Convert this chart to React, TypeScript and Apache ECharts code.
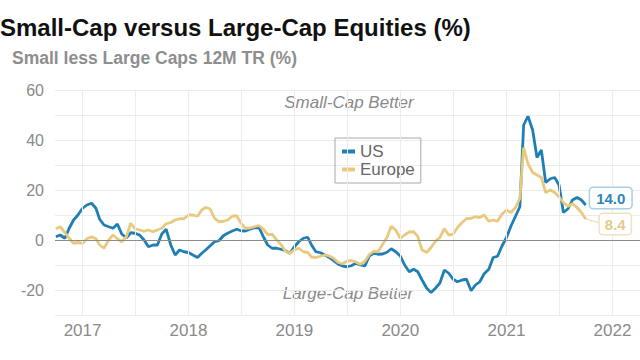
import React, { useEffect, useRef } from "react";
import * as echarts from "echarts";

// Semi-monthly observations from Oct 2016 to Oct 2021 (1st and 16th of each month)
const usValues: number[] = [
  1.3, 2, 0.7, 4.7, 8, 10, 12.7, 14, 14.7, 12.7, 8.3, 6, 5.3, 4.7, 6.4, 2.4, 0.9, 2.9, 2.7, 2,
  0, -2.7, -2, -2, 2.4, 4.3, -2, -6, -4, -4.7, -5, -6, -7, -5.3, -4, -2.4, -0.7, -0.3, 1.7, 2.7,
  3.6, 4.3, 3.7, 3.6, 4.3, 4.9, 5, 1.3, -2, -3.3, -3.3, -3.7, -4.3, -5.3, -2.7, -0.7, 0.7, 1.1, -2, -4.7,
  -5.1, -6, -7, -8.3, -9.7, -10.4, -10.7, -10.3, -9.3, -10, -10.4, -6.4, -5.3, -5.7, -5.6, -4.9, -3.5, -4.7, -6.4, -10,
  -12.7, -11.7, -12.7, -16, -19.3, -21, -19.3, -17.3, -12, -13.3, -15.7, -16.7, -16, -15.7, -20.3, -18, -16.7, -13.5, -11.7, -7,
  -6.5, -2.5, 1.0, 5.5, 9.5, 13.3, 46, 49.5, 44, 33, 36, 23, 24.5, 25, 22, 11, 12.5, 16, 17, 16,
  14.0,
];

const europeValues: number[] = [
  4.5, 5.3, 3, 0.7, -1.3, -1, -1.3, 0.5, 1.3, 0.5, -2, -3.3, 0, 2, 0.5, -0.7, 1.3, 6.7, 4.5, 4,
  3.5, 4, 3.3, 4, 4.7, 6.5, 7, 8, 8.5, 8.5, 10, 10, 9.5, 12, 13, 12.5, 8.7, 7.3, 7.5, 8,
  9.5, 9.7, 6.7, 4.7, 4.8, 5.3, 5.8, 4.3, 2.2, 2.3, 0, -1.8, -4.5, -5.3, -4, -3.3, -4.7, -5, -6.8, -7,
  -6.5, -6, -6.4, -7.3, -9, -9.5, -8.5, -8.2, -8.8, -9.7, -8.5, -5.8, -4.5, -4.7, -1.7, 1, 5.5, 4, 0.7, 2,
  3.2, 3.3, 1.5, -4, -5, -3, -0.5, 1, 4.5, 2, 2.3, 5, 7, 8.5, 8.7, 9.3, 9, 10, 7.5, 8,
  7.5, 10.3, 12, 11, 13, 16.7, 37, 30.5, 27, 26, 25, 19, 20, 19, 17.3, 15, 13.5, 14.5, 13, 11,
  8.4,
];

const yearLabels: number[] = [2017, 2018, 2019, 2020, 2021, 2022];
const halfYearGrid: string[] = [
  "2017-01-01", "2017-07-01", "2018-01-01", "2018-07-01", "2019-01-01", "2019-07-01",
  "2020-01-01", "2020-07-01", "2021-01-01", "2021-07-01", "2022-01-01",
];

const ts = (s: string) => new Date(s + "T00:00:00").getTime();

const dates: string[] = [];
for (let i = 0; i < usValues.length; i++) {
  const m = 9 + Math.floor(i / 2);
  const y = 2016 + Math.floor(m / 12);
  const mm = (m % 12) + 1;
  const d = i % 2 === 0 ? "01" : "16";
  dates.push(`${y}-${String(mm).padStart(2, "0")}-${d}`);
}

const US_COLOR = "#1f7fb4";
const EU_COLOR = "#e8c97e";
const FONT = "Liberation Sans";

export default function App() {
  const ref = useRef<HTMLDivElement>(null);
  useEffect(() => {
    if (!ref.current) return;
    const chart = echarts.init(ref.current, undefined, { renderer: "svg" });
    const last = usValues.length - 1;
    chart.setOption({
      animation: false,
      backgroundColor: "#ffffff",
      textStyle: { fontFamily: FONT },
      title: [
        {
          text: "Small-Cap versus Large-Cap Equities (%)",
          left: 0,
          top: 15,
          padding: 0,
          textStyle: { fontSize: 24, fontWeight: "bold", color: "#111111", fontFamily: FONT },
        },
        {
          text: "Small less Large Caps 12M TR (%)",
          left: 12,
          top: 49,
          padding: 0,
          textStyle: { fontSize: 17.5, fontWeight: "bold", color: "#8e8e8e", fontFamily: FONT },
        },
      ],
      grid: { left: 55, right: 0, top: 90, bottom: 45, containLabel: false },
      legend: {
        data: ["US", "Europe"],
        orient: "vertical",
        left: 335,
        top: 138,
        padding: [5, 6, 5, 7],
        itemGap: 1,
        itemWidth: 13,
        itemHeight: 4,
        icon: "rect",
        borderColor: "#a8a8a8",
        borderWidth: 1,
        textStyle: { fontSize: 17, color: "#666666", fontFamily: FONT, lineHeight: 16 },
      },
      xAxis: {
        type: "value",
        min: ts("2016-09-28"),
        max: ts("2022-04-06"),
        axisLine: { show: false },
        axisTick: { show: false },
        splitLine: { show: false },
        axisLabel: {
          customValues: yearLabels.map((y) => new Date(y, 0, 1).getTime()),
          formatter: (v: number) => String(new Date(v).getFullYear()),
          fontSize: 17,
          color: "#8a8a8a",
          margin: 7,
          fontFamily: FONT,
        },
      },
      yAxis: {
        type: "value",
        min: -30,
        max: 60,
        interval: 10,
        axisLine: { show: false },
        axisTick: { show: false },
        splitLine: { lineStyle: { color: "#ececec", width: 1 } },
        axisLabel: {
          formatter: (v: number) => (v % 20 === 0 ? String(v) : ""),
          fontSize: 16,
          color: "#8a8a8a",
          margin: 11,
          fontFamily: FONT,
        },
      },
      graphic: [
        {
          type: "text",
          x: 349,
          y: 102,
          style: {
            text: "Small-Cap Better",
            fontStyle: "italic",
            fontSize: 17,
            fill: "#8a8a8a",
            fontFamily: FONT,
            align: "center",
            verticalAlign: "middle",
          },
        },
        {
          type: "text",
          x: 348,
          y: 293,
          style: {
            text: "Large-Cap Better",
            fontStyle: "italic",
            fontSize: 17,
            fill: "#8a8a8a",
            fontFamily: FONT,
            align: "center",
            verticalAlign: "middle",
          },
        },
      ],
      series: [
        {
          type: "line",
          data: [],
          z: 1,
          silent: true,
          markLine: {
            silent: true,
            symbol: ["none", "none"],
            label: { show: false },
            animation: false,
            data: [
              ...halfYearGrid.map((d) => ({
                xAxis: ts(d),
                lineStyle: { color: "#ececec", width: 1, type: "solid" },
              })),
              { yAxis: 0, lineStyle: { color: "#8c8c8c", width: 1, type: "solid" } },
            ],
          },
        },
        {
          name: "US",
          type: "line",
          z: 3,
          data: dates.map((d, i) => [ts(d), usValues[i]]),
          showSymbol: false,
          color: US_COLOR,
          lineStyle: { color: US_COLOR, width: 2.8 },
          markPoint: {
            symbol: "circle",
            symbolSize: 1,
            itemStyle: { color: "rgba(0,0,0,0)" },
            label: {
              show: true,
              position: "inside",
              offset: [25, -7],
              formatter: () => usValues[last].toFixed(1),
              color: "#2f86b8",
              fontSize: 15,
              fontWeight: "bold",
              fontFamily: FONT,
              backgroundColor: "#ffffff",
              borderColor: "#a9d0e4",
              borderWidth: 1.5,
              borderRadius: 3,
              padding: [3, 6, 2, 6],
            },
            data: [{ coord: [ts(dates[last]), usValues[last]] }],
          },
        },
        {
          name: "Europe",
          type: "line",
          z: 3,
          data: dates.map((d, i) => [ts(d), europeValues[i]]),
          showSymbol: false,
          color: EU_COLOR,
          lineStyle: { color: EU_COLOR, width: 2.8 },
          markPoint: {
            symbol: "circle",
            symbolSize: 1,
            itemStyle: { color: "rgba(0,0,0,0)" },
            label: {
              show: true,
              position: "inside",
              offset: [29.5, 5],
              formatter: () => europeValues[last].toFixed(1),
              color: "#e6cb8c",
              fontSize: 15,
              fontWeight: "bold",
              fontFamily: FONT,
              backgroundColor: "#ffffff",
              borderColor: "#f1e2bd",
              borderWidth: 1.5,
              borderRadius: 3,
              padding: [3, 5, 2, 5],
            },
            data: [{ coord: [ts(dates[last]), europeValues[last]] }],
          },
          markLine: {
            silent: true,
            symbol: ["none", "none"],
            label: { show: false },
            lineStyle: { color: "#ecd7a4", width: 1, type: "solid" },
            data: [[{ coord: [ts(dates[last]), europeValues[last]] }, { coord: [ts("2021-11-26"), 6.6] }]],
          },
        },
      ],
    });
    return () => chart.dispose();
  }, []);
  return (
    <div
      ref={ref}
      style={{ position: "fixed", left: 0, top: 0, width: 640, height: 360 }}
    />
  );
}
